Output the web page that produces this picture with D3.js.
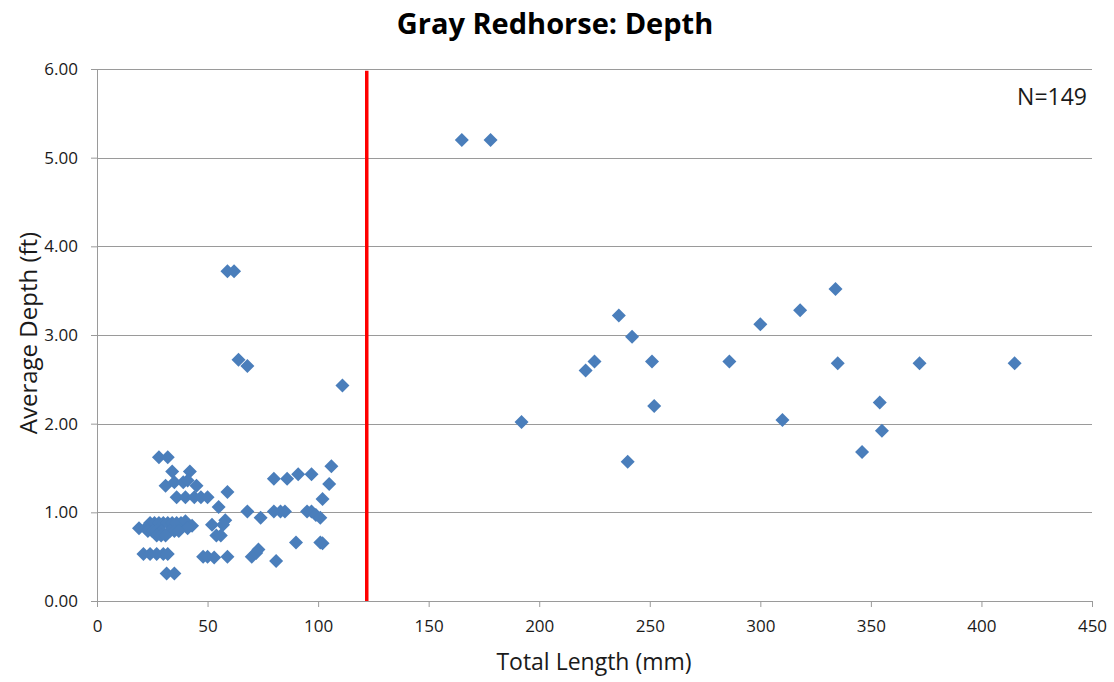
<!DOCTYPE html>
<html>
<head>
<meta charset="utf-8">
<script src="https://cdn.jsdelivr.net/npm/d3@7"></script>
<style>
  body { margin: 0; background: #fff; }
  text { font-family: "Open Sans", "Liberation Sans", sans-serif; }
</style>
</head>
<body>
<div id="chart"></div>
<script>
const width = 1114;
const height = 682;
const margin = { top: 69, right: 22, bottom: 81, left: 97 };

// total length (mm) and average depth (ft)
const lengths = [
    165, 178, 192, 221, 225, 236, 242, 240, 251, 252, 286, 300, 310, 318, 334, 335, 346, 354, 355, 372, 415,
    59, 62, 64, 68, 111,
    80, 86, 91, 97, 106, 105, 102,
    68, 74, 80, 83, 85, 95, 97, 99, 101,
    90, 101, 102, 81, 70, 72, 73,
    28, 32, 34, 42,
    31, 35, 39, 41, 45,
    36, 40, 44, 47, 50,
    59, 55, 58, 52, 57, 54, 56,
    24, 26, 28, 30, 32, 34, 36, 38, 40,
    19, 22, 43, 41,
    23, 25, 27, 29, 33, 35, 37,
    27, 29, 31,
    21, 24, 27, 30, 32,
    48, 50, 53, 59,
    31.5, 35
];
const depths = [
    5.20, 5.20, 2.02, 2.60, 2.70, 3.22, 2.98, 1.57, 2.70, 2.20, 2.70, 3.12, 2.04, 3.28, 3.52, 2.68, 1.68, 2.24, 1.92, 2.68, 2.68,
    3.72, 3.72, 2.72, 2.65, 2.43,
    1.38, 1.38, 1.43, 1.43, 1.52, 1.32, 1.15,
    1.01, 0.94, 1.01, 1.01, 1.01, 1.01, 1.01, 0.97, 0.94,
    0.66, 0.66, 0.65, 0.45, 0.50, 0.54, 0.58,
    1.62, 1.62, 1.46, 1.46,
    1.30, 1.34, 1.34, 1.36, 1.30,
    1.17, 1.17, 1.17, 1.17, 1.17,
    1.23, 1.06, 0.91, 0.86, 0.86, 0.74, 0.74,
    0.88, 0.88, 0.88, 0.88, 0.88, 0.88, 0.88, 0.88, 0.90,
    0.82, 0.82, 0.85, 0.82,
    0.79, 0.79, 0.79, 0.79, 0.79, 0.79, 0.79,
    0.74, 0.74, 0.74,
    0.53, 0.53, 0.53, 0.53, 0.53,
    0.50, 0.50, 0.49, 0.50,
    0.31, 0.31
];
const xTicks = [0, 50, 100, 150, 200, 250, 300, 350, 400, 450];
const yTicks = [0, 1, 2, 3, 4, 5, 6];
const cutoff = 122;
const sampleSize = 149;

const points = lengths.map((d, i) => ({ len: d, depth: depths[i] }));

const svg = d3.select("#chart")
    .append("svg")
    .attr("width", width)
    .attr("height", height);

const plotWidth = width - margin.left - margin.right;
const plotHeight = height - margin.top - margin.bottom;

const x = d3.scaleLinear().domain([0, 450]).range([0, plotWidth]);
const y = d3.scaleLinear().domain([0, 6]).range([plotHeight, 0]);

const plot = svg.append("g")
    .attr("transform", `translate(${margin.left},${margin.top})`);

// horizontal gridlines
plot.append("g")
    .selectAll("line")
    .data(yTicks.filter(d => d > 0))
    .join("line")
    .attr("x1", 0)
    .attr("x2", plotWidth)
    .attr("y1", d => Math.round(y(d)) + 0.5)
    .attr("y2", d => Math.round(y(d)) + 0.5)
    .attr("stroke", "#9a9a9a")
    .attr("stroke-width", 1);

const yAxis = plot.append("g")
    .call(d3.axisLeft(y).tickValues(yTicks).tickFormat(d3.format(".2f")).tickSize(6).tickSizeOuter(0));

const xAxis = plot.append("g")
    .attr("transform", `translate(0,${plotHeight})`)
    .call(d3.axisBottom(x).tickValues(xTicks).tickSize(6).tickSizeOuter(0));

[xAxis, yAxis].forEach(g => {
    g.select(".domain").attr("stroke", "#9a9a9a");
    g.selectAll(".tick line").attr("stroke", "#9a9a9a");
    g.selectAll(".tick text")
        .attr("fill", "#1a1a1a")
        .style("font-size", "17px")
        .style("font-family", "'Open Sans', sans-serif");
});
yAxis.selectAll(".tick text").attr("x", -19);
xAxis.selectAll(".tick text").attr("y", 19);

// red cutoff line
plot.append("line")
    .attr("x1", x(cutoff))
    .attr("x2", x(cutoff))
    .attr("y1", y(0))
    .attr("y2", y(5.98))
    .attr("stroke", "#ff0000")
    .attr("stroke-width", 3.5);

const diamond = "M0,-7L7,0L0,7L-7,0Z";

plot.append("g")
    .selectAll("path")
    .data(points)
    .join("path")
    .attr("d", diamond)
    .attr("transform", d => `translate(${x(d.len)},${y(d.depth)})`)
    .attr("fill", "#4a7ebb");

svg.append("text")
    .attr("x", 555)
    .attr("y", 34)
    .attr("text-anchor", "middle")
    .style("font-size", "29px")
    .style("font-weight", "bold")
    .text("Gray Redhorse: Depth");

svg.append("text")
    .attr("x", 594)
    .attr("y", 670)
    .attr("text-anchor", "middle")
    .style("font-size", "23px")
    .attr("fill", "#1a1a1a")
    .text("Total Length (mm)");

svg.append("text")
    .attr("transform", "rotate(-90)")
    .attr("x", -333)
    .attr("y", 37)
    .attr("text-anchor", "middle")
    .style("font-size", "24px")
    .attr("fill", "#1a1a1a")
    .text("Average Depth (ft)");

svg.append("text")
    .attr("x", 1087)
    .attr("y", 105)
    .attr("text-anchor", "end")
    .style("font-size", "23px")
    .attr("fill", "#1a1a1a")
    .text(`N=${sampleSize}`);
</script>
</body>
</html>
